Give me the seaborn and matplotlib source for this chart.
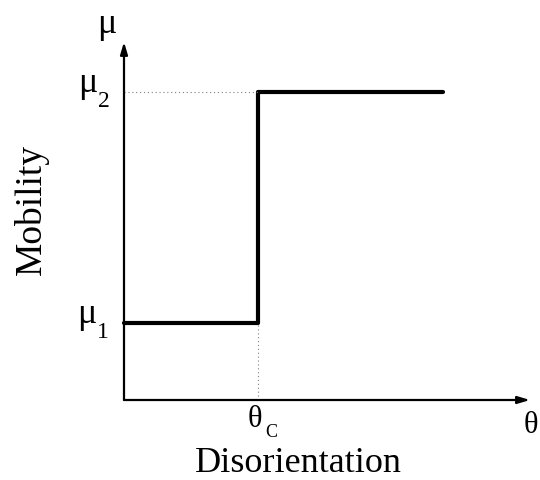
import matplotlib
matplotlib.use("Agg")
import matplotlib.pyplot as plt
import seaborn as sns
import pandas as pd

sns.set_theme(style="white")
plt.rcParams["font.family"] = ["Liberation Serif", "DejaVu Serif"]
plt.rcParams["text.color"] = "black"

# Step mobility model: low mobility below the critical angle, high above it
theta = [0.0, 1.0, 1.0, 2.38]
mobility = [1.0, 1.0, 4.0, 4.0]
theta_c = 1.0
mu_1 = 1.0
mu_2 = 4.0
x_max = 3.03
y_max = 4.65

df = pd.DataFrame({"theta": theta, "mobility": mobility})

fig = plt.figure(figsize=(5.4, 4.8), dpi=100)
ax = fig.add_axes([124 / 540, 80 / 480, (540 - 124) / 540, (480 - 80) / 480])
ax.set_xlim(0, (540 - 124) / 134)
ax.set_ylim(0, 400 / 77)
ax.axis("off")

sns.lineplot(data=df, x="theta", y="mobility", sort=False, estimator=None,
             color="black", lw=3.0, ax=ax, clip_on=False)

# axes with arrowheads
arrow = dict(arrowstyle="-|>,head_length=0.6,head_width=0.18", color="black",
             lw=1.6, shrinkA=0, shrinkB=0)
ax.annotate("", xy=(0, y_max), xytext=(0, 0), arrowprops=arrow, annotation_clip=False)
ax.annotate("", xy=(x_max, 0), xytext=(0, 0), arrowprops=arrow, annotation_clip=False)

# dotted guides
ax.plot([0, theta_c], [mu_2, mu_2], ls=(0, (1, 2.5)), color="gray", lw=0.8)
ax.plot([theta_c, theta_c], [0, mu_1], ls=(0, (1, 2.5)), color="gray", lw=0.8)

big, sub = 26, 17
kw = dict(va="baseline", ha="left", clip_on=False)
# axis symbols
ax.text(-0.20, 4.77, "μ", fontsize=big, **kw)
ax.text(2.98, -0.43, "θ", fontsize=22, **kw)
# level labels with subscripts
ax.text(-0.343, mu_2, "μ", fontsize=big, **kw)
ax.text(-0.194, mu_2 - 0.195, "2", fontsize=sub, **kw)
ax.text(-0.351, mu_1, "μ", fontsize=big, **kw)
ax.text(-0.200, mu_1 - 0.20, "1", fontsize=sub, **kw)
# critical angle label
ax.text(0.925, -0.35, "θ", fontsize=22, **kw)
ax.text(1.052, -0.48, "C", fontsize=13, **kw)
# axis titles
ax.text(1.30, -0.935, "Disorientation", fontsize=26, ha="center", va="baseline", clip_on=False)
ax.text(-0.694, 2.48, "Mobility", fontsize=27, ha="center", va="center", rotation=90, clip_on=False)

fig.savefig("out.png", dpi=100)
